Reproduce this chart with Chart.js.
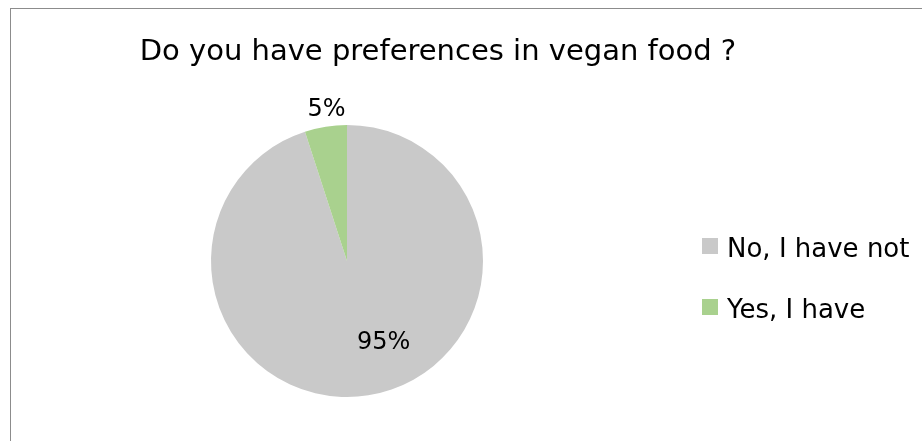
<!DOCTYPE html>
<html><head><meta charset="utf-8">
<script src="https://cdn.jsdelivr.net/npm/chart.js@4/dist/chart.umd.min.js"></script>
<style>html,body{margin:0;padding:0;background:#fff}#wrap{width:922px;height:441px;position:relative}</style>
</head><body><div id="wrap"><canvas id="c" width="922" height="441"></canvas></div>
<script>
const titleText = "Do you have preferences in vegan food ?";
const categories = ["No, I have not", "Yes, I have"];
const values = [95, 5];
const percentLabels = ["95%", "5%"];
const colors = ["#C9C9C9", "#A9D18E"];
const FONT = '"DejaVu Sans", sans-serif';

const decor = {
  id: 'decor',
  beforeDraw(chart) {
    const ctx = chart.ctx;
    ctx.save();
    ctx.fillStyle = '#fff';
    ctx.fillRect(0, 0, chart.width, chart.height);
    ctx.strokeStyle = '#8c8c8c';
    ctx.lineWidth = 1;
    ctx.strokeRect(10.5, 8.5, 1000, 1000);
    ctx.restore();
  },
  afterDraw(chart) {
    const ctx = chart.ctx;
    ctx.save();
    ctx.fillStyle = '#000';
    ctx.textBaseline = 'alphabetic';
    // title
    ctx.font = '29px ' + FONT;
    ctx.textAlign = 'center';
    ctx.fillText(titleText, 438, 60);
    // percent labels
    const meta = chart.getDatasetMeta(0);
    const offs = [[0.27, 0.58], [-0.15, -1.13]];
    ctx.font = '24px ' + FONT;
    meta.data.forEach((arc, i) => {
      const R = arc.outerRadius;
      ctx.fillText(percentLabels[i], arc.x + offs[i][0] * R, arc.y + offs[i][1] * R + 9);
    });
    // legend
    ctx.textAlign = 'left';
    ctx.font = '26px ' + FONT;
    const rows = [238, 299];
    categories.forEach((c, i) => {
      ctx.fillStyle = colors[i];
      ctx.fillRect(702, rows[i], 16, 16);
      ctx.fillStyle = '#000';
      ctx.fillText(c, 727, rows[i] + 19);
    });
    ctx.restore();
  }
};

new Chart(document.getElementById('c'), {
  type: 'pie',
  data: { labels: categories, datasets: [{ data: values, backgroundColor: colors, borderWidth: 0 }] },
  options: {
    responsive: false,
    animation: false,
    layout: { padding: { left: 211, right: 439, top: 125, bottom: 44 } },
    plugins: { legend: { display: false }, title: { display: false }, tooltip: { enabled: false } }
  },
  plugins: [decor]
});
</script></body></html>
